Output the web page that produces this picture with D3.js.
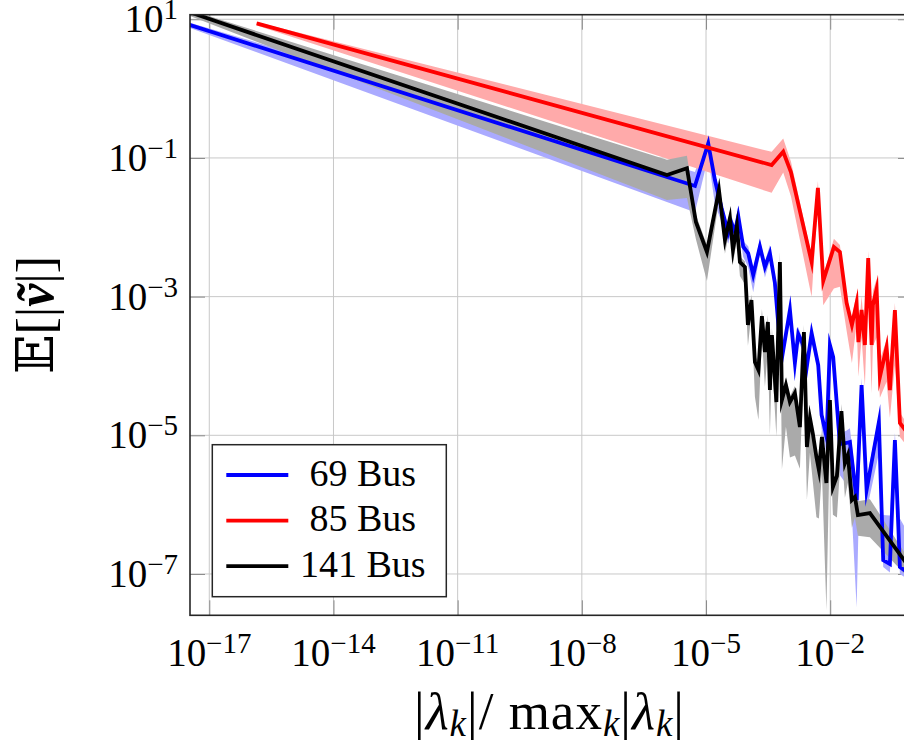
<!DOCTYPE html>
<html lang="en">
<head>
<meta charset="utf-8">
<title>Expected error vs normalized eigenvalue</title>
<script src="https://cdnjs.cloudflare.com/ajax/libs/d3/7.8.5/d3.min.js"></script>
<style>
  body { margin: 0; background: #fff; overflow: hidden; }
  svg { display: block; }
  text { font-family: "Liberation Serif", "DejaVu Serif", serif; fill: #000; }
  .grid line { stroke: #c8c8c8; stroke-width: 1; }
  .ticks line { stroke: #8a8a8a; stroke-width: 1; }
  .ticks path { display: none; }
  .band { stroke: none; }
  .line { fill: none; stroke-width: 3.8; stroke-linejoin: miter; stroke-miterlimit: 10; }
</style>
</head>
<body>
<div id="vis"></div>
<script>
// all values are log10 of the plotted quantities

// 69 Bus
var lam69 = [-17.60, -5.268, -4.947, -4.785, -4.623, -4.464, -4.382, -4.302, -4.222, -4.101,
  -3.981, -3.860, -3.698, -3.577, -3.457, -3.336, -3.256, -3.174, -2.973, -2.853,
  -2.773, -2.652, -2.570, -2.449, -2.290, -2.208, -2.087, -2.007, -1.928, -1.766,
  -1.604, -1.524, -1.362, -1.242, -1.121, -0.824, -0.720, -0.558, -0.437, -0.316, 0];
var err69 = [0.944, -1.404, -0.789, -1.318, -1.726, -2.087, -1.942, -2.068, -1.837, -2.280,
  -2.375, -2.688, -2.280, -2.573, -2.375, -2.804, -3.385, -3.914, -3.193, -3.957,
  -3.539, -3.698, -4.030, -3.525, -3.986, -4.707, -5.025, -3.698, -3.871, -5.126,
  -5.111, -5.097, -5.933, -4.275, -5.789, -4.808, -6.799, -6.857, -5.068, -6.900, -7.030];
var up69 = [0.03, 0.2, 0.12, 0.1, 0.1, 0.08, 0.1, 0.08, 0.15, 0.08,
  0.1, 0.1, 0.1, 0.08, 0.12, 0.1, 0.06, 0.08, 0.1, 0.05,
  0.1, 0.05, 0.05, 0.06, 0.06, 0.08, 0.05, 0.08, 0.06, 0.15,
  0.18, 0.2, 0.2, 0.1, 0.15, 0.1, 0.65, 0.7, 0.1, 0.7, 0.5];
var down69 = [0.04, 0.38, 0.2, 0.35, 0.2, 0.15, 0.12, 0.15, 0.1, 0.15,
  0.2, 0.25, 0.1, 0.15, 0.1, 0.15, 0.12, 0.1, 0.1, 0.1,
  0.1, 0.1, 0.15, 0.1, 0.12, 0.2, 0.25, 0.1, 0.15, 0.45,
  0.6, 0.5, 1.55, 0.15, 0.3, 0.45, 0.1, 0.12, 0.3, 0.1, 0.1];

// 85 Bus
var lam85 = [-15.855, -3.415, -3.135, -2.949, -2.449, -2.297, -2.169, -1.911, -1.766, -1.604,
  -1.476, -1.362, -1.319, -1.242, -1.162, -1.082, -1.000, -0.969, -0.879, -0.800,
  -0.638, -0.558, -0.437, -0.316, 0];
var err85 = [0.942, -1.102, -0.910, -1.202, -2.501, -1.433, -2.775, -2.284, -2.356, -3.092,
  -3.409, -3.092, -3.655, -3.193, -3.698, -2.443, -3.698, -3.121, -2.890, -4.159,
  -3.727, -4.347, -3.193, -4.823, -5.068];
var up85 = [0.02, 0.19, 0.19, 0.15, 0.1, 0.1, 0.08, 0.12, 0.1, 0.1,
  0.1, 0.15, 0.1, 0.2, 0.1, 0.1, 0.15, 0.2, 0.15, 0.25,
  0.1, 0.2, 0.1, 0.15, 0.1];
var down85 = [0.03, 0.4, 0.3, 0.35, 0.5, 0.2, 0.35, 0.6, 0.5, 0.4,
  0.55, 0.3, 0.5, 0.4, 0.6, 0.3, 0.7, 0.6, 0.7, 0.3,
  0.5, 0.4, 0.8, 0.2, 0.2];

// 141 Bus
var lam141 = [-17.60, -5.944, -5.461, -5.244, -4.978, -4.688, -4.543, -4.422, -4.350, -4.254,
  -4.181, -4.060, -3.988, -3.903, -3.819, -3.734, -3.650, -3.577, -3.505, -3.457,
  -3.408, -3.300, -3.215, -3.167, -3.070, -2.973, -2.853, -2.732, -2.635, -2.563,
  -2.490, -2.418, -2.333, -2.273, -2.200, -2.092, -2.007, -1.935, -1.838, -1.729,
  -1.645, -1.572, -1.476, -1.403, -1.331, -1.041, 0];
var err141 = [1.127, -1.246, -1.149, -1.924, -2.356, -1.462, -2.183, -1.866, -2.328, -1.981,
  -2.501, -2.573, -3.409, -3.049, -3.943, -4.058, -3.280, -3.799, -3.366, -4.347,
  -3.554, -4.520, -2.501, -4.491, -4.275, -4.520, -4.390, -4.881, -3.510, -5.169,
  -4.751, -4.981, -5.313, -5.501, -5.025, -5.688, -4.491, -5.746, -5.587, -4.650,
  -5.400, -5.284, -5.933, -5.890, -6.150, -6.121, -6.978];
var up141 = [0.03, 0.22, 0.18, 0.1, 0.1, 0.1, 0.08, 0.1, 0.08, 0.1,
  0.08, 0.08, 0.1, 0.08, 0.1, 0.1, 0.1, 0.08, 0.1, 0.08,
  0.1, 0.08, 0.15, 0.08, 0.1, 0.08, 0.1, 0.08, 0.1, 0.08,
  0.1, 0.08, 0.08, 0.1, 0.1, 0.08, 0.1, 0.08, 0.1, 0.1,
  0.08, 0.1, 0.1, 0.2, 0.2, 0.2, 0.1];
var down141 = [0.05, 0.36, 0.43, 0.25, 0.42, 0.15, 0.2, 0.15, 0.2, 0.2,
  0.2, 0.25, 0.3, 0.2, 0.5, 0.72, 0.3, 0.5, 0.4, 0.65,
  0.35, 0.5, 0.3, 1.0, 0.6, 0.8, 0.9, 0.6, 0.4, 0.76,
  0.5, 0.7, 0.87, 0.7, 0.5, 1.83, 0.5, 0.4, 0.6, 0.5,
  0.5, 0.4, 0.4, 0.3, 0.3, 0.35, 0.15];

var xTicks = [-17, -14, -11, -8, -5, -2];
var yTicks = [1, -1, -3, -5, -7];
var xDomain = [-17.466, 0];
var yDomain = [-7.596, 1.066];
var seriesNames = ['69 Bus', '85 Bus', '141 Bus'];

var width = 904;
var height = 749;
var margin = { top: 14.7, left: 190 };
var w = 723;     // plot goes to 10^0, a little past the picture edge
var h = 600.6;

function p10(e) { return Math.pow(10, e); }

var svg = d3.select('#vis')
    .append('svg')
    .attr('width', width)
    .attr('height', height);

var g = svg.append('g')
    .attr('transform', 'translate(' + margin.left + ',' + margin.top + ')');

var x_scale = d3.scaleLog().domain(xDomain.map(p10)).range([0, w]);
var y_scale = d3.scaleLog().domain(yDomain.map(p10)).range([h, 0]);

svg.append('defs').append('clipPath').attr('id', 'plotclip')
    .append('rect').attr('x', 0).attr('y', 0).attr('width', w).attr('height', h);

// grid
var grid = g.append('g').attr('class', 'grid');
grid.selectAll('.gx').data(xTicks).enter().append('line')
    .attr('x1', function(d) { return x_scale(p10(d)); })
    .attr('x2', function(d) { return x_scale(p10(d)); })
    .attr('y1', 0).attr('y2', h);
grid.selectAll('.gy').data(yTicks).enter().append('line')
    .attr('y1', function(d) { return y_scale(p10(d)); })
    .attr('y2', function(d) { return y_scale(p10(d)); })
    .attr('x1', 0).attr('x2', w);

// ticks on all four sides, pointing inwards
var tl = 15;
g.append('g').attr('class', 'ticks').attr('transform', 'translate(0,' + h + ')')
    .call(d3.axisBottom(x_scale).tickValues(xTicks.map(p10)).tickSizeInner(-tl).tickSizeOuter(0).tickFormat(''));
g.append('g').attr('class', 'ticks')
    .call(d3.axisTop(x_scale).tickValues(xTicks.map(p10)).tickSizeInner(-tl).tickSizeOuter(0).tickFormat(''));
g.append('g').attr('class', 'ticks')
    .call(d3.axisLeft(y_scale).tickValues(yTicks.map(p10)).tickSizeInner(-tl).tickSizeOuter(0).tickFormat(''));
g.append('g').attr('class', 'ticks').attr('transform', 'translate(' + w + ',0)')
    .call(d3.axisRight(y_scale).tickValues(yTicks.map(p10)).tickSizeInner(-tl).tickSizeOuter(0).tickFormat(''));

// data
function rows(lam, err, up, down) {
    return lam.map(function(v, i) {
        return { lam: p10(v), val: p10(err[i]), hi: p10(err[i] + up[i]), lo: p10(err[i] - down[i]) };
    });
}
var data = [
    { name: seriesNames[0], rows: rows(lam69, err69, up69, down69), line: '#0000ff', band: '#aaaaff' },
    { name: seriesNames[1], rows: rows(lam85, err85, up85, down85), line: '#ff0000', band: '#ffaaaa' },
    { name: seriesNames[2], rows: rows(lam141, err141, up141, down141), line: '#000000', band: '#aaaaaa' }
];

var area = d3.area()
    .x(function(d) { return x_scale(d.lam); })
    .y0(function(d) { return y_scale(d.lo); })
    .y1(function(d) { return y_scale(d.hi); });

var line = d3.line()
    .x(function(d) { return x_scale(d.lam); })
    .y(function(d) { return y_scale(d.val); });

var plot = g.append('g').attr('clip-path', 'url(#plotclip)');

plot.selectAll('.band').data(data).enter().append('path')
    .attr('class', 'band')
    .attr('fill', function(d) { return d.band; })
    .attr('d', function(d) { return area(d.rows); });

plot.selectAll('.line').data(data).enter().append('path')
    .attr('class', 'line')
    .attr('stroke', function(d) { return d.line; })
    .attr('d', function(d) { return line(d.rows); });

// frame
g.append('rect')
    .attr('x', 0).attr('y', 0).attr('width', w).attr('height', h)
    .attr('fill', 'none').attr('stroke', '#262626').attr('stroke-width', 1.6);

// tick labels
function powLabel(sel, e) {
    sel.append('tspan').text('10');
    sel.append('tspan').attr('dy', -13).attr('font-size', 29)
        .text(e < 0 ? '\u2212' + (-e) : String(e));
}

g.selectAll('.xl').data(xTicks).enter().append('text')
    .attr('x', function(d) { return x_scale(p10(d)); })
    .attr('y', h + 51)
    .attr('text-anchor', 'middle')
    .attr('font-size', 39)
    .each(function(d) { powLabel(d3.select(this), d); });

g.selectAll('.yl').data(yTicks).enter().append('text')
    .attr('x', -12)
    .attr('y', function(d) { return y_scale(p10(d)) + 13; })
    .attr('text-anchor', 'end')
    .attr('font-size', 39)
    .each(function(d) { powLabel(d3.select(this), d); });

// axis labels
var xl = svg.append('text')
    .attr('x', margin.left + w / 2 - 2)
    .attr('y', 729)
    .attr('text-anchor', 'middle')
    .attr('font-size', 53)
    .attr('letter-spacing', 1);
xl.append('tspan').text('|');
xl.append('tspan').attr('font-style', 'italic').text('\u03bb');
xl.append('tspan').attr('font-style', 'italic').attr('font-size', 37).attr('dy', 7).text('k');
xl.append('tspan').attr('dy', -7).text('|/ max');
xl.append('tspan').attr('font-style', 'italic').attr('font-size', 37).attr('dy', 7).text('k');
xl.append('tspan').attr('dy', -7).text('|');
xl.append('tspan').attr('font-style', 'italic').text('\u03bb');
xl.append('tspan').attr('font-style', 'italic').attr('font-size', 37).attr('dy', 7).text('k');
xl.append('tspan').attr('dy', -7).text('|');

var yl = svg.append('text')
    .attr('transform', 'translate(53,' + (margin.top + h / 2) + ') rotate(-90)')
    .attr('text-anchor', 'middle')
    .attr('font-size', 52);
yl.append('tspan').attr('font-family', 'DejaVu Serif, DejaVu Sans').text('\ud835\udd3c');
yl.append('tspan').text('[|');
yl.append('tspan').attr('font-style', 'italic').attr('font-weight', 'bold').text('v\u0303');
yl.append('tspan').text('|]');

// legend
var leg = svg.append('g').attr('transform', 'translate(212.3,444.7)');
leg.append('rect').attr('width', 234).attr('height', 152)
    .attr('fill', '#fff').attr('stroke', '#262626').attr('stroke-width', 1.5);
var item = leg.selectAll('.item').data(data).enter().append('g')
    .attr('transform', function(d, i) { return 'translate(0,' + (30.3 + i * 45.6) + ')'; });
item.append('line').attr('x1', 14).attr('x2', 76).attr('y1', 0).attr('y2', 0)
    .attr('stroke', function(d) { return d.line; }).attr('stroke-width', 3.8);
item.append('text').attr('x', 150.5).attr('y', 10.5).attr('text-anchor', 'middle')
    .attr('font-size', 38).text(function(d) { return d.name; });
</script>
</body>
</html>
